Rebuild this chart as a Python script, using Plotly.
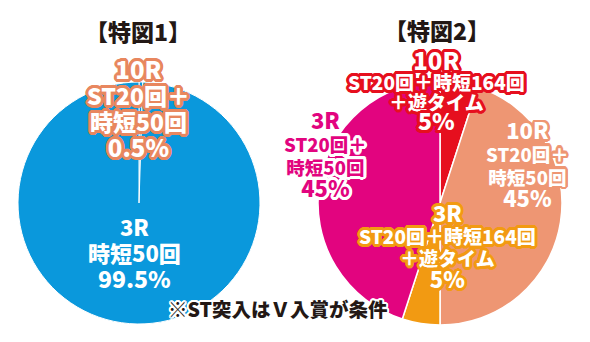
import math
import plotly.graph_objects as go

W, H = 590, 342

# ---- data ----
pie1_labels = ["10R ST20回＋時短50回", "3R 時短50回"]
pie1_values = [0.5, 99.5]
pie1_colors = ["#0a98dc", "#0a98dc"]

pie2_labels = ["10R ST20回＋時短164回＋遊タイム", "10R ST20回＋時短50回",
               "3R ST20回＋時短164回＋遊タイム", "3R ST20回＋時短50回"]
pie2_values = [5, 45, 5, 45]
pie2_colors = ["#e60f1e", "#ee9673", "#f29a12", "#e2047f"]

titles = ["【特図1】", "【特図2】"]
footnote = "※ST突入はＶ入賞が条件"

lab1_top = ["10R", "ST20回＋", "時短50回", "0.5%"]
lab1_bot = ["3R", "時短50回", "99.5%"]
lab2_red = ["10R", "ST20回＋時短164回", "＋遊タイム", "5%"]
lab2_mag = ["3R", "ST20回＋", "時短50回", "45%"]
lab2_sal = ["10R", "ST20回＋", "時短50回", "45%"]
lab2_org = ["3R", "ST20回＋時短164回", "＋遊タイム", "5%"]

FONT = "Noto Sans CJK JP"


def outline(color, r=2.5, n=16):
    parts = []
    for k in range(n):
        a = 2 * math.pi * k / n
        parts.append(f"{r*math.cos(a):.2f}px {r*math.sin(a):.2f}px 0 {color}")
    return ", ".join(parts)


fig = go.Figure()

def dom(x0, x1, y0, y1):
    return dict(x=[x0 / W, x1 / W], y=[1 - y1 / H, 1 - y0 / H])

fig.add_trace(go.Pie(
    labels=pie1_labels, values=pie1_values, sort=False, direction="clockwise",
    rotation=0, marker=dict(colors=pie1_colors, line=dict(color="white", width=1)),
    textinfo="none", hoverinfo="skip", showlegend=False,
    domain=dom(18, 260, 82, 324),
))
fig.add_trace(go.Pie(
    labels=pie2_labels, values=pie2_values, sort=False, direction="clockwise",
    rotation=0, marker=dict(colors=pie2_colors, line=dict(color="white", width=1.5)),
    textinfo="none", hoverinfo="skip", showlegend=False,
    domain=dom(318, 562, 81, 325),
))

annotations = []

def add(lines, sizes, x, y, base, color="white", stroke=None, r=2.5):
    f = dict(family=FONT, size=base, color=color, weight=900)
    if stroke:
        f["shadow"] = outline(stroke, r)
    text = "<br>".join(f'<span style="font-size:{s}px">{t}</span>' for t, s in zip(lines, sizes))
    annotations.append(dict(text=text, x=x / W, y=1 - y / H, xref="paper", yref="paper",
                            xanchor="center", yanchor="middle", showarrow=False, font=f))

# titles
add([titles[0]], [23], 138, 31, 23, color="#231815")
add([titles[1]], [23], 437, 30, 23, color="#231815")

# pie 1 labels
add(lab1_top, [24, 23, 23, 24], 138, 107.5, 20, stroke="#e8875f", r=3)
add(lab1_bot, [22, 22, 23], 134, 252, 20)

# pie 2 labels
red = "#e60f1e"
add(lab2_red, [24, 19, 19, 23], 436, 90, 15.5, stroke=red, r=3)

mag = "#e2047f"
add(lab2_mag, [22, 18.5, 18.5, 22], 325, 152.5, 17.5, color=mag, stroke="white", r=3)

sal = "#ee9673"
add(lab2_sal, [22, 18.5, 18.5, 22], 527, 163, 17.5, stroke=sal, r=2.5)

org = "#f29a12"
add(lab2_org, [22, 19, 19, 22], 447, 245, 17, stroke=org, r=3)

# footnote
add([footnote], [19.5], 278, 308, 19.5, color="#231815", stroke="white", r=2)

fig.update_layout(
    width=W, height=H, margin=dict(l=0, r=0, t=0, b=0),
    paper_bgcolor="white", plot_bgcolor="white",
    annotations=annotations,
)

fig.write_html("out.html")
